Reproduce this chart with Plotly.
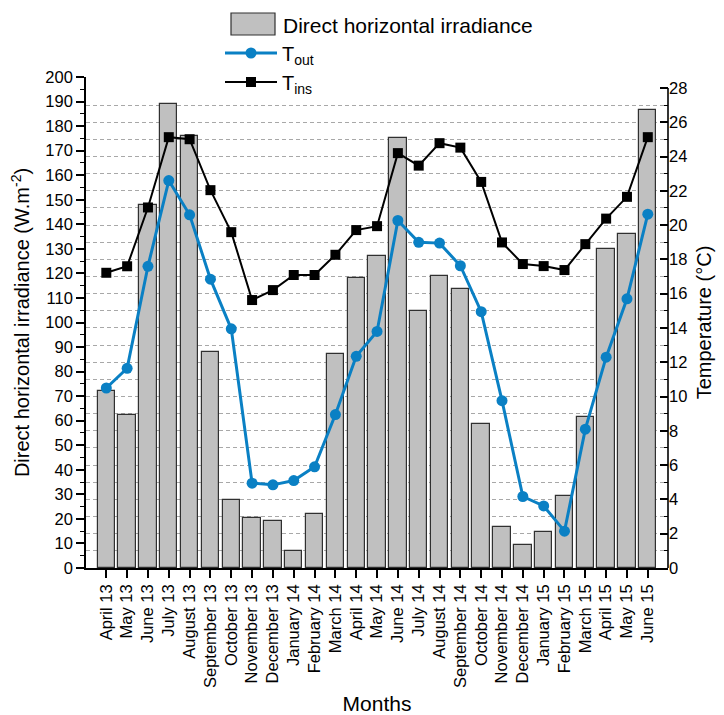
import plotly.graph_objects as go

months = ["April 13", "May 13", "June 13", "July 13", "August 13", "September 13",
          "October 13", "November 13", "December 13", "January 14", "February 14",
          "March 14", "April 14", "May 14", "June 14", "July 14", "August 14",
          "September 14", "October 14", "November 14", "December 14", "January 15",
          "February 15", "March 15", "April 15", "May 15", "June 15"]

irradiance = [72, 62.5, 148, 189, 176, 88, 27.5, 20.5, 19, 7, 22, 87, 118, 127,
              175, 104.5, 119, 113.5, 58.5, 16.5, 9.5, 14.5, 29.5, 61.5, 130, 136, 186.5]

t_out = [10.5, 11.65, 17.6, 22.6, 20.6, 16.85, 13.95, 4.95, 4.85, 5.1, 5.9, 8.95,
         12.35, 13.8, 20.27, 19.0, 18.95, 17.63, 14.95, 9.76, 4.17, 3.62, 2.15,
         8.1, 12.3, 15.7, 20.64]

t_ins = [17.22, 17.6, 21.03, 25.13, 25.01, 22.04, 19.59, 15.63, 16.21, 17.09,
         17.09, 18.27, 19.71, 19.94, 24.2, 23.47, 24.78, 24.52, 22.52, 18.99,
         17.73, 17.61, 17.38, 18.89, 20.38, 21.65, 25.13]

left_ticks = list(range(0, 201, 10))
right_ticks = list(range(0, 29, 2))
grid_vals = list(range(1, 28))

FONT = "Liberation Sans, Arial, sans-serif"
BAR_NAME = "Direct horizontal irradiance"

# plot area in pixels: x 86..668, y 77..568
L, R, T, B = 86, 56, 77, 147
PW, PH = 724 - L - R, 715 - T - B


def px(xp):
    return (xp - L) / PW


def py(yp):
    return (715 - B - yp) / PH


fig = go.Figure()
fig.add_trace(go.Bar(
    x=months, y=irradiance, name=BAR_NAME, showlegend=False,
    marker=dict(color="#c0c0c0", line=dict(color="#303030", width=1.2)),
    width=0.835, yaxis="y"))
fig.add_trace(go.Scatter(
    x=months, y=t_out, name="T<sub>out</sub>", mode="lines+markers",
    legendgroup="a",
    line=dict(color="#0a80c4", width=3),
    marker=dict(symbol="circle", size=11, color="#0a80c4"), yaxis="y2"))
fig.add_trace(go.Scatter(
    x=months, y=t_ins, name="T<sub>ins</sub>", mode="lines+markers",
    legendgroup="b",
    line=dict(color="black", width=2),
    marker=dict(symbol="square", size=10, color="black"), yaxis="y2"))
fig.add_trace(go.Scatter(x=[], y=[], yaxis="y3", showlegend=False, hoverinfo="skip"))

fig.update_layout(
    width=724, height=715,
    margin=dict(l=L, r=R, t=T, b=B, autoexpand=False),
    paper_bgcolor="white", plot_bgcolor="white",
    font=dict(family=FONT, size=16, color="black"),
    showlegend=True,
    legend=dict(x=px(220), y=py(33.5), xanchor="left", yanchor="top",
                bgcolor="rgba(0,0,0,0)", font=dict(size=20), itemwidth=52,
                tracegroupgap=0),
    xaxis=dict(
        type="category", range=[-0.975, 26.97], automargin=False,
        tickangle=-90, ticks="outside", ticklen=8, tickwidth=1.5, tickcolor="black",
        showline=True, linecolor="black", linewidth=1.6,
        showgrid=False, zeroline=False,
        tickfont=dict(size=16.5),
        title=dict(text="Months", font=dict(size=21), standoff=14),
    ),
    yaxis=dict(
        range=[0, 200], tickmode="array", tickvals=left_ticks, automargin=False,
        ticks="outside", ticklen=8, tickwidth=1.5, tickcolor="black",
        minor=dict(ticks="outside", dtick=5, ticklen=4, tickwidth=1.2, tickcolor="black", showgrid=False),
        showline=True, linecolor="black", linewidth=1.6,
        showgrid=False, zeroline=False,
        tickfont=dict(size=16.5),
        title=dict(text="Direct horizontal irradiance (W.m<sup>-2</sup>)", font=dict(size=20), standoff=10),
    ),
    yaxis2=dict(
        overlaying="y", side="right", anchor="x", automargin=False,
        range=[0, 28.64], tickmode="array", tickvals=right_ticks,
        ticks="inside", ticklen=8, tickwidth=1.5, tickcolor="black",
        minor=dict(ticks="inside", dtick=1, ticklen=4, tickwidth=1.2, tickcolor="black", showgrid=False),
        showline=False, showgrid=False, zeroline=False,
        tickfont=dict(size=16.5),
        title=dict(text="Temperature (°C)", font=dict(size=20), standoff=10),
    ),
    yaxis3=dict(
        overlaying="y", side="right", anchor="x", automargin=False,
        range=[0, 28.64], tickmode="array", tickvals=grid_vals,
        showticklabels=False, ticks="", showline=False, zeroline=False,
        showgrid=True, gridcolor="#a8a8a8", gridwidth=1, griddash="4px,3px",
    ),
    bargap=0,
)

# right axis line spanning 0..28 on the temperature scale
fig.add_shape(type="line", xref="paper", yref="y2", x0=1, x1=1, y0=0, y1=28,
              line=dict(color="black", width=1.6))

# legend entry for the bars (wide swatch as in the reference)
fig.add_shape(type="rect", xref="paper", yref="paper",
              x0=px(231), x1=px(275), y0=py(35), y1=py(13),
              fillcolor="#c0c0c0", line=dict(color="#303030", width=1.2))
fig.add_annotation(xref="paper", yref="paper", x=px(281), y=py(25),
                   xanchor="left", yanchor="middle", showarrow=False,
                   text=BAR_NAME, font=dict(size=21))

fig.write_html("out.html", config={"displayModeBar": False},
               post_script="document.body.style.margin='0';")
